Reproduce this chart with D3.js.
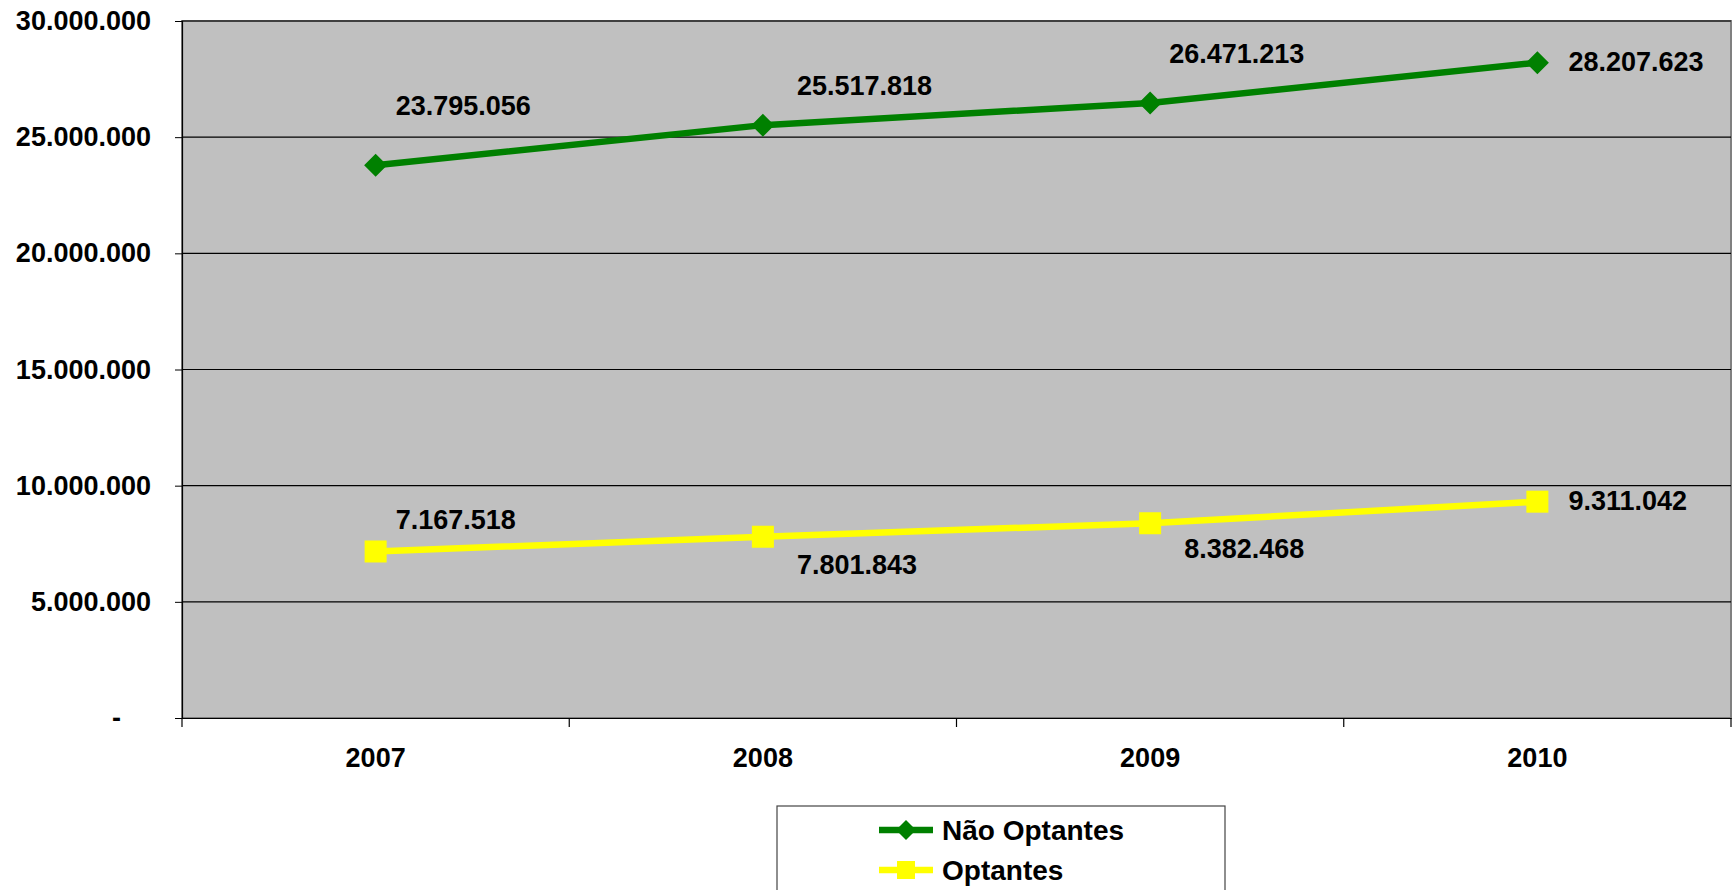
<!DOCTYPE html>
<html><head><meta charset="utf-8">
<script src="https://cdn.jsdelivr.net/npm/d3@7"></script>
<style>html,body{margin:0;padding:0;background:#fff;}svg{display:block;font-family:"Liberation Sans",Arial,sans-serif;font-weight:bold;}</style>
</head><body><svg id="c" width="1732" height="890"></svg>
<script>
const categories = ["2007","2008","2009","2010"];
const naoOptantes = [23795056, 25517818, 26471213, 28207623];
const optantes = [7167518, 7801843, 8382468, 9311042];
const yTicks = [0, 5000000, 10000000, 15000000, 20000000, 25000000, 30000000];
const seriesNames = ["Não Optantes", "Optantes"];
// label offsets (layout) relative to each point
const naoLabelOffsets = [[20,-60],[34,-40],[19,-49],[31,-1]];
const optLabelOffsets = [[20,-32],[34,28],[34,25],[31,-1]];

const svg = d3.select("#c");
const L = 182, R = 1731, T = 21, B = 718;
const x = d3.scaleBand().domain(categories).range([L, R]).paddingInner(0).paddingOuter(0);
const y = d3.scaleLinear().domain([0, 30000000]).range([B, T]);
const cx = d => x(d) + x.bandwidth()/2;
const fmt = v => v === 0 ? "-" : d3.format(",")(v).replace(/,/g, ".");

svg.append("rect").attr("x", L).attr("y", T).attr("width", R - L).attr("height", B - T)
  .attr("fill", "#C0C0C0").attr("stroke", "#808080").attr("stroke-width", 2);

// gridlines
svg.append("g").selectAll("line").data(yTicks.filter(v => v > 0)).join("line")
  .attr("x1", L).attr("x2", R).attr("y1", d => y(d)).attr("y2", d => y(d))
  .attr("stroke", "#000").attr("stroke-width", 1.2);

// y axis
const yAxis = svg.append("g").attr("transform", `translate(${L},0)`)
  .call(d3.axisLeft(y).tickValues(yTicks).tickSize(7).tickPadding(24).tickFormat(fmt));
yAxis.select(".domain").attr("stroke", "#000").attr("stroke-width", 1.2);
yAxis.selectAll(".tick line").attr("stroke", "#000");
yAxis.selectAll(".tick text").attr("font-size", 27).attr("font-family", "Liberation Sans, Arial, sans-serif")
  .attr("font-weight", "bold").attr("fill", "#000")
  .attr("dx", d => d === 0 ? -30 : 0);

// x axis
const xAxis = svg.append("g").attr("transform", `translate(0,${B})`)
  .call(d3.axisBottom(x).tickSize(0).tickPadding(30));
xAxis.select(".domain").attr("stroke", "#000").attr("stroke-width", 1.2);
xAxis.selectAll(".tick text").attr("font-size", 27).attr("font-family", "Liberation Sans, Arial, sans-serif")
  .attr("font-weight", "bold").attr("fill", "#000");
// boundary ticks
const bounds = categories.map(c => x(c)).concat([R]);
svg.append("g").selectAll("line").data(bounds).join("line")
  .attr("x1", d => d).attr("x2", d => d).attr("y1", B).attr("y2", B + 9)
  .attr("stroke", "#000").attr("stroke-width", 1.2);

const line = d3.line().x((d, i) => cx(categories[i])).y(d => y(d));

function drawSeries(vals, color, shape, offsets) {
  const g = svg.append("g");
  g.append("path").datum(vals).attr("d", line).attr("fill", "none")
    .attr("stroke", color).attr("stroke-width", 6.5).attr("stroke-linejoin", "round");
  if (shape === "diamond") {
    g.selectAll("path.m").data(vals).join("path").attr("class", "m")
      .attr("d", (d, i) => { const px = cx(categories[i]), py = y(d), r = 11.5;
        return `M${px},${py-r}L${px+r},${py}L${px},${py+r}L${px-r},${py}Z`; })
      .attr("fill", color);
  } else {
    g.selectAll("rect.m").data(vals).join("rect").attr("class", "m")
      .attr("x", (d, i) => cx(categories[i]) - 11).attr("y", d => y(d) - 11)
      .attr("width", 22).attr("height", 22).attr("fill", color);
  }
  g.selectAll("text").data(vals).join("text")
    .attr("x", (d, i) => cx(categories[i]) + offsets[i][0])
    .attr("y", (d, i) => y(d) + offsets[i][1])
    .attr("dy", "0.35em").attr("font-size", 27).attr("fill", "#000")
    .text(d => fmt(d));
}
drawSeries(naoOptantes, "#008000", "diamond", naoLabelOffsets);
drawSeries(optantes, "#FFFF00", "square", optLabelOffsets);

// legend
const lg = svg.append("g");
lg.append("rect").attr("x", 777).attr("y", 806).attr("width", 448).attr("height", 120)
  .attr("fill", "#fff").attr("stroke", "#444").attr("stroke-width", 1.2);
const legendItems = [
  {name: seriesNames[0], color: "#008000", shape: "diamond", yy: 830},
  {name: seriesNames[1], color: "#FFFF00", shape: "square", yy: 870}
];
legendItems.forEach(it => {
  lg.append("line").attr("x1", 879).attr("x2", 933).attr("y1", it.yy).attr("y2", it.yy)
    .attr("stroke", it.color).attr("stroke-width", 6.5);
  if (it.shape === "diamond") {
    const r = 10, px = 906, py = it.yy;
    lg.append("path").attr("d", `M${px},${py-r}L${px+r},${py}L${px},${py+r}L${px-r},${py}Z`).attr("fill", it.color);
  } else {
    lg.append("rect").attr("x", 897).attr("y", it.yy - 9).attr("width", 18).attr("height", 18).attr("fill", it.color);
  }
  lg.append("text").attr("x", 942).attr("y", it.yy).attr("dy", "0.35em")
    .attr("font-size", 28).attr("fill", "#000").text(it.name);
});
</script></body></html>
